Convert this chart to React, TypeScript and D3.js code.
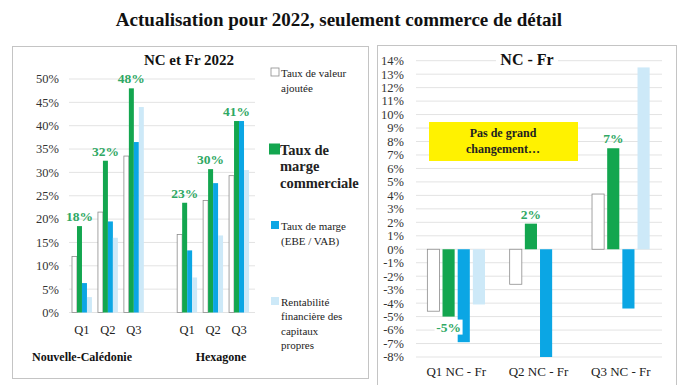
import React from 'react';
import * as d3 from 'd3';

const WIDTH = 684;
const HEIGHT = 385;
const FONT = "'Liberation Serif', 'Times New Roman', serif";

const TITLE = 'Actualisation pour 2022, seulement commerce de détail';

// left chart: NC et Fr 2022
const regions = ['Nouvelle-Calédonie', 'Hexagone'];
const quarters = ['Q1', 'Q2', 'Q3'];
const seriesNames = [
  'Taux de valeur ajoutée',
  'Taux de marge commerciale',
  'Taux de marge (EBE / VAB)',
  'Rentabilité financière des capitaux propres',
];
// one row per region, one value per quarter
const valeurAjoutee = [[12, 21.5, 33.5], [16.7, 24, 29.3]];
const margeCommerciale = [[18.5, 32.5, 48], [23.5, 30.7, 41]];
const margeEbe = [[6.3, 19.5, 36.5], [13.3, 27.7, 41]];
const rentabilite = [[3.3, 16, 44], [7.5, 16.5, 30.5]];
const margeLabels = [['18%', '32%', '48%'], ['23%', '30%', '41%']];
const leftTicks = [0, 5, 10, 15, 20, 25, 30, 35, 40, 45, 50];

// right chart: NC - Fr
const diffCategories = ['Q1 NC - Fr', 'Q2 NC - Fr', 'Q3 NC - Fr'];
const diffValeur = [-4.6, -2.6, 4.1];
const diffMargeCom = [-5, 1.9, 7.5];
const diffEbe = [-6.9, -8, -4.4];
const diffRenta = [-4.1, 0, 13.5];
const diffLabels = ['-5%', '2%', '7%'];
const rightTicks = d3.range(-8, 15, 1);

const COLORS = ['#ffffff', '#13a64f', '#0ba6e4', '#cde9f8'];
const STROKES = ['#8c8c8c', 'none', 'none', 'none'];
const LABEL_GREEN = '#2fa864';

const App = () => {
  // ---------- left chart scales
  const yL = d3.scaleLinear().domain([0, 50]).range([312.5, 79]);
  const x0 = d3.scaleBand().domain(regions).range([69, 252]).paddingInner(0.26);
  const x1 = d3.scaleBand().domain(quarters).range([0, x0.bandwidth()]);
  const x2 = d3.scaleBand().domain(seriesNames).range([3, x1.bandwidth() - 3]);
  const leftSeries = [valeurAjoutee, margeCommerciale, margeEbe, rentabilite];

  // ---------- right chart scales
  const yR = d3.scaleLinear().domain([-8, 14]).range([357, 60.7]);
  const xR = d3.scaleBand().domain(diffCategories).range([415, 662])
    .paddingInner(0.3).paddingOuter(0.15);
  const xR2 = d3.scaleBand().domain(seriesNames).range([0, xR.bandwidth()]).paddingInner(0.2);
  const rightSeries = [diffValeur, diffMargeCom, diffEbe, diffRenta];

  const legend = [
    { lines: ['Taux de valeur', 'ajoutée'], y: 73, size: 11, bold: false, lh: 15, sq: 8 },
    { lines: ['Taux de', 'marge', 'commerciale'], y: 150, size: 14.5, bold: true, lh: 16.7, sq: 11 },
    { lines: ['Taux de marge', '(EBE / VAB)'], y: 226, size: 11, bold: false, lh: 15, sq: 8 },
    { lines: ['Rentabilité', 'financière des', 'capitaux', 'propres'], y: 302, size: 11, bold: false, lh: 14.5, sq: 8 },
  ];

  return (
    <svg width={WIDTH} height={HEIGHT} viewBox={`0 0 ${WIDTH} ${HEIGHT}`}
      style={{ position: 'absolute', left: 0, top: 0, background: '#fff' }}>
      <style>{`text { font-family: ${FONT}; }`}</style>
      <text x={339} y={26} textAnchor="middle" fontSize={19} fontWeight="bold" fill="#111">{TITLE}</text>

      {/* left panel */}
      <rect x={12.5} y={46.5} width={356} height={332} fill="#fff" stroke="#c4c4c4" />
      <text x={189} y={65} textAnchor="middle" fontSize={15} fontWeight="bold" fill="#111">NC et Fr 2022</text>
      {leftTicks.map(t => (
        <g key={t}>
          <line x1={69} x2={255} y1={yL(t)} y2={yL(t)} stroke="#e3e3e3" />
          <text x={59} y={yL(t)} dy="0.35em" textAnchor="end" fontSize={12.5} fill="#333">{t}%</text>
        </g>
      ))}
      {regions.map((r, ri) => (
        <g key={r} transform={`translate(${x0(r)},0)`}>
          {quarters.map((q, qi) => (
            <g key={q} transform={`translate(${x1(q)},0)`}>
              {leftSeries.map((s, si) => (
                <rect key={si} x={x2(seriesNames[si])} width={x2.bandwidth()}
                  y={yL(s[ri][qi])} height={yL(0) - yL(s[ri][qi])}
                  fill={COLORS[si]} stroke={STROKES[si]} strokeWidth={0.8} />
              ))}
              <text x={x2(seriesNames[1])! + x2.bandwidth() / 2} y={yL(margeCommerciale[ri][qi]) - 5}
                textAnchor="middle" fontSize={13.5} fontWeight="bold" fill={LABEL_GREEN}>{margeLabels[ri][qi]}</text>
              <text x={x1.bandwidth() / 2} y={334} textAnchor="middle" fontSize={12.5} fill="#222">{q}</text>
            </g>
          ))}
        </g>
      ))}
      <text x={82} y={361} textAnchor="middle" fontSize={12} fontWeight="bold" fill="#111">{regions[0]}</text>
      <text x={221} y={361} textAnchor="middle" fontSize={12} fontWeight="bold" fill="#111">{regions[1]}</text>

      {/* legend */}
      {legend.map((l, i) => (
        <g key={i}>
          <rect x={i === 1 ? 269 : 271} y={l.y - l.sq / 2 - 1} width={l.sq} height={l.sq}
            fill={COLORS[i]} stroke={i === 0 ? '#8c8c8c' : 'none'} strokeWidth={0.8} />
          {l.lines.map((t, j) => (
            <text key={j} x={i === 1 ? 280 : 281} y={l.y + j * l.lh} dy="0.33em"
              fontSize={l.size} fontWeight={l.bold ? 'bold' : 'normal'} fill="#222">{t}</text>
          ))}
        </g>
      ))}

      {/* right panel */}
      <rect x={377.5} y={45.5} width={299} height={345} fill="#fff" stroke="#c4c4c4" />
      {rightTicks.map(t => (
        <g key={t}>
          <line x1={416} x2={662} y1={yR(t)} y2={yR(t)} stroke="#e3e3e3" />
          <text x={404} y={yR(t)} dy="0.35em" textAnchor="end" fontSize={12.5} fill="#333">{t}%</text>
        </g>
      ))}
      <rect x={496} y={51} width={62} height={17} fill="#fff" />
      <text x={527} y={65} textAnchor="middle" fontSize={16} fontWeight="bold" fill="#111">NC - Fr</text>
      {diffCategories.map((c, ci) => (
        <g key={c} transform={`translate(${xR(c)},0)`}>
          {rightSeries.map((s, si) => (
            s[ci] === 0 ? null : (
              <rect key={si} x={xR2(seriesNames[si])} width={xR2.bandwidth()}
                y={yR(Math.max(0, s[ci]))} height={Math.abs(yR(s[ci]) - yR(0))}
                fill={COLORS[si]} stroke={STROKES[si]} strokeWidth={0.8} />
            )
          ))}
          <text x={xR.bandwidth() / 2} y={376} textAnchor="middle" fontSize={13} fill="#222">{c}</text>
        </g>
      ))}
      {diffCategories.map((c, ci) => {
        const cx = xR(c)! + xR2(seriesNames[1])! + xR2.bandwidth() / 2;
        const v = diffMargeCom[ci];
        const y = v < 0 ? yR(v) + 15 : yR(v) - 5;
        return (
          <g key={c}>
            {v < 0 && <rect x={cx - 14} y={y - 12} width={28} height={15} fill="#fff" />}
            <text x={cx} y={y} textAnchor="middle" fontSize={13.5} fontWeight="bold" fill={LABEL_GREEN}>{diffLabels[ci]}</text>
          </g>
        );
      })}
      <rect x={429} y={122} width={149} height={39} fill="#fff200" />
      <text x={503} y={137} textAnchor="middle" fontSize={12} fontWeight="bold" fill="#222">Pas de grand</text>
      <text x={503} y={153} textAnchor="middle" fontSize={12} fontWeight="bold" fill="#222">changement…</text>
    </svg>
  );
};

export default App;
